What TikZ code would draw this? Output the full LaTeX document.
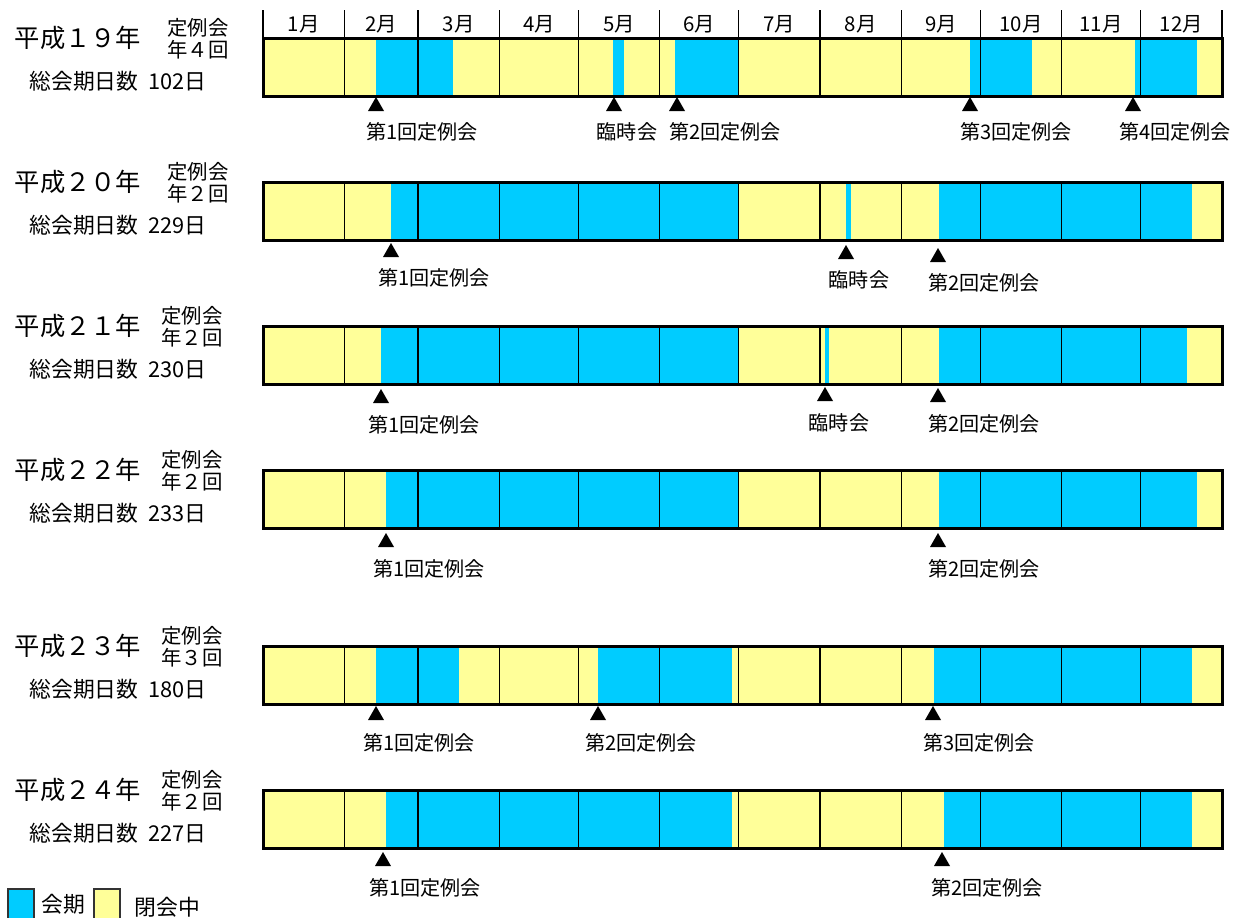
\documentclass[tikz,border=0pt]{standalone}
\usepackage{fontspec}
\setmainfont{Noto Sans CJK JP}
\definecolor{kaikiblue}{HTML}{00CCFF}
\definecolor{heikaiyellow}{HTML}{FFFF99}

\begin{document}
\begin{tikzpicture}[x=0.25mm, y=-0.25mm,
    nen/.style={font=\fontsize{18}{20}\selectfont},
    teirei/.style={font=\fontsize{14.5}{15.6}\selectfont, align=center, inner sep=0pt},
    nissu/.style={font=\fontsize{15.5}{16}\selectfont},
    tsuki/.style={font=\fontsize{14.5}{15}\selectfont},
    kaigi/.style={font=\fontsize{14.3}{16}\selectfont},
    session/.style={fill=kaikiblue},
    recess/.style={fill=heikaiyellow},
    frame/.style={line width=0.75mm},
    monthline/.style={line width=0.28mm}]
  \useasboundingbox (0,0) rectangle (1239,917);

  % month header
  \foreach \m in {0,31,59,90,120,151,181,212,243,273,304,334,365}
    \draw[monthline] ({263+2.6274*\m},10) -- ({263+2.6274*\m},38);
  \foreach \xa/\xb [count=\i] in {0/31,31/59,59/90,90/120,120/151,151/181,181/212,212/243,243/273,273/304,304/334,334/365}
    \node[tsuki] (m\i) at ({263+1.3137*(\xa+\xb)},24) {\i 月};

  % closed periods (background of every year)
  \foreach \ty in {38,182,326,470,646,790}
    \fill[recess] (263,\ty) rectangle (1222,\ty+58);

  % sessions
  \foreach \xa/\xb in {376/453, 613/623.6, 675/738.6, 970/1032, 1135/1197}
    \fill[session] (\xa,38) rectangle (\xb,96);
  \foreach \xa/\xb in {391/738.6, 846/850.6, 939/1192}
    \fill[session] (\xa,182) rectangle (\xb,240);
  \foreach \xa/\xb in {381/738.6, 825/829.4, 939/1187}
    \fill[session] (\xa,326) rectangle (\xb,384);
  \foreach \xa/\xb in {386/738.6, 939/1197}
    \fill[session] (\xa,470) rectangle (\xb,528);
  \foreach \xa/\xb in {376/458.7, 598/731.6, 934/1192}
    \fill[session] (\xa,646) rectangle (\xb,704);
  \foreach \xa/\xb in {386/731.6, 944/1192}
    \fill[session] (\xa,790) rectangle (\xb,848);

  % month lines and frames
  \foreach \ty in {38,182,326,470,646,790}{
    \foreach \m in {31,59,90,120,151,181,212,243,273,304,334}
      \draw[monthline] ({263+2.6274*\m},\ty) -- ++(0,58);
    \draw[frame] (263,\ty) rectangle (1222,\ty+58);
  }

  % year labels
  \foreach \ty/\nn/\kai/\nd/\tx [count=\i] in {38/１９/４/102/198, 182/２０/２/229/198, 326/２１/２/230/192, 470/２２/２/233/192, 646/２３/３/180/192, 790/２４/２/227/192}{
    \node[nen] (nen\i) at (78,\ty) {平成\nn 年};
    \node[teirei] (tei\i) at (\tx,\ty+1) {定例会\\年\kai 回};
    \node[nissu] (nissu\i) at (118,\ty+43) {総会期日数\hspace{0.45em}\nd 日};
  }

  % meetings: triangle and name
  \foreach \x/\lx/\dy/\lbl [count=\i] in {376/422/0/第1回定例会, 614/627/0/臨時会, 677/725/0/第2回定例会, 970/1016/0/第3回定例会, 1133/1175/0/第4回定例会}{
    \fill (\x,97+\dy) -- ++(8,14) -- ++(-16,0) -- cycle;
    \node[kaigi] (h19k\i) at (\lx,132+\dy) {\lbl};
  }
  \foreach \x/\lx/\dy/\lbl [count=\i] in {391/434/0/第1回定例会, 846/859/2/臨時会, 938/984/5/第2回定例会}{
    \fill (\x,243+\dy) -- ++(8,14) -- ++(-16,0) -- cycle;
    \node[kaigi] (h20k\i) at (\lx,278+\dy) {\lbl};
  }
  \foreach \x/\lx/\dy/\lbl [count=\i] in {381/424/0/第1回定例会, 825/839/-2/臨時会, 938/984/-1/第2回定例会}{
    \fill (\x,389+\dy) -- ++(8,14) -- ++(-16,0) -- cycle;
    \node[kaigi] (h21k\i) at (\lx,425+\dy) {\lbl};
  }
  \foreach \x/\lx/\dy/\lbl [count=\i] in {386/429/0/第1回定例会, 938/984/0/第2回定例会}{
    \fill (\x,533+\dy) -- ++(8,14) -- ++(-16,0) -- cycle;
    \node[kaigi] (h22k\i) at (\lx,569+\dy) {\lbl};
  }
  \foreach \x/\lx/\dy/\lbl [count=\i] in {376/419/0/第1回定例会, 598/641/0/第2回定例会, 933/979/0/第3回定例会}{
    \fill (\x,706+\dy) -- ++(8,14) -- ++(-16,0) -- cycle;
    \node[kaigi] (h23k\i) at (\lx,743+\dy) {\lbl};
  }
  \foreach \x/\lx/\dy/\lbl [count=\i] in {383/425/0/第1回定例会, 942/987/0/第2回定例会}{
    \fill (\x,852+\dy) -- ++(8,14) -- ++(-16,0) -- cycle;
    \node[kaigi] (h24k\i) at (\lx,888+\dy) {\lbl};
  }

  % legend
  \draw[session, draw=black!80, line width=0.5mm] (8,889) rectangle (34,925);
  \node[kaigi, font=\fontsize{15.5}{16}\selectfont, anchor=west] (kaiki) at (37,904) {会期};
  \draw[recess, draw=black!80, line width=0.5mm] (94,889) rectangle (120,925);
  \node[kaigi, font=\fontsize{15.5}{16}\selectfont, anchor=west] (heikai) at (130,907) {閉会中};
\end{tikzpicture}
\end{document}
